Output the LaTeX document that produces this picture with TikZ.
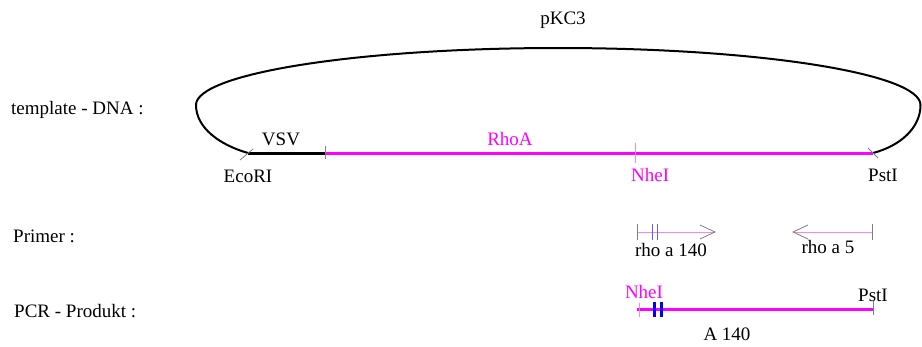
\documentclass[tikz,border=0pt]{standalone}
\usepackage{fontspec}
\setmainfont{Liberation Serif}
\definecolor{mag}{HTML}{FF00FF}
\definecolor{lpink}{HTML}{FF80FF}
\definecolor{tickgray}{HTML}{808080}
\definecolor{lblue}{HTML}{6060FF}
\begin{document}
\begin{tikzpicture}[x=1pt,y=-1pt,
  lbl/.style={font=\fontsize{19}{22}\selectfont, inner sep=0pt, anchor=base},
  mlbl/.style={lbl, text=mag},
  curve/.style={draw=black, line width=2pt},
  blkline/.style={draw=black, line width=3pt},
  magline/.style={draw=mag, line width=3pt},
  thinpink/.style={draw=lpink, line width=1pt},
  gtick/.style={draw=tickgray, line width=0.8pt},
  ptick/.style={draw=lpink, line width=1pt},
  btick/.style={draw=lblue, line width=1pt},
  bbtick/.style={draw=blue, line width=3pt}]
\useasboundingbox (0,0) rectangle (922,346);
\fill[white] (0,0) rectangle (922,346);

% row labels
\node[lbl, anchor=base west] (tdna) at (11,114) {template - DNA :};
\node[lbl, anchor=base west] (prim) at (13,242) {Primer :};
\node[lbl, anchor=base west] (pcr) at (14,317) {PCR - Produkt :};

% template
\coordinate (eco) at (248,153);
\coordinate (vsvend) at (325,153);
\coordinate (nhe) at (635,153);
\coordinate (pst) at (873,153);

\draw[curve] (eco) .. controls (220,145) and (196,128) .. (196,105)
  .. controls (196,73.5) and (358,48) .. (558,48)
  .. controls (758,48) and (920.5,73.5) .. (920.5,105)
  .. controls (920.5,128) and (900,146) .. (pst);
\node[lbl] (pkc) at (563,24) {pKC3};

\draw[blkline] (eco) -- (vsvend);
\draw[magline] (vsvend) -- (pst);
\draw[gtick] ([shift={(-8,7)}]eco) -- ([shift={(5,-4)}]eco);
\draw[gtick] ([shift={(-5,-5)}]pst) -- ([shift={(5,5)}]pst);
\draw[gtick] ([yshift=-6]vsvend) -- ([yshift=7]vsvend);
\draw[ptick] ([yshift=-10]nhe) -- ([yshift=10]nhe);

\node[lbl] (vsv) at (281,145) {VSV};
\node[mlbl] (rhoa) at (510,145) {RhoA};
\node[lbl] (ecol) at (248,182) {EcoRI};
\node[mlbl, anchor=base west] (nhel) at (631,181) {NheI};
\node[lbl, anchor=base west] (pstl) at (868,181) {PstI};

% primers
\coordinate (p1s) at (637,232);
\coordinate (p1e) at (715,232);
\coordinate (p2s) at (793,232);
\coordinate (p2e) at (872,232);
\draw[thinpink] (p1s) -- (p1e);
\draw[thinpink] (p2s) -- (p2e);
\draw[gtick] ([yshift=-8]p1s) -- ([yshift=8]p1s);
\draw[btick] (652,224) -- (652,240);
\draw[btick] (657,224) -- (657,240);
\draw[gtick] ([shift={(-15,-7)}]p1e) -- (p1e) -- ([shift={(-15,7)}]p1e);
\draw[gtick] ([shift={(15,-7)}]p2s) -- (p2s) -- ([shift={(15,7)}]p2s);
\draw[gtick] ([yshift=-8]p2e) -- ([yshift=8]p2e);
\node[lbl] (r140) at (671,256) {rho a 140};
\node[lbl] (r5) at (828,253) {rho a 5};

% PCR product
\coordinate (qs) at (637,309);
\coordinate (qe) at (873,309);
\draw[magline] (qs) -- (qe);
\draw[ptick] (639,303) -- (639,317);
\draw[bbtick] (654,302) -- (654,317);
\draw[bbtick] (661,302) -- (661,317);
\draw[gtick] ([yshift=-6]qe) -- ([yshift=8]qe);
\node[mlbl] (nhe2) at (644,298) {NheI};
\node[lbl] (pst2) at (873,301) {PstI};
\node[lbl] (a140) at (727,340) {A 140};
\end{tikzpicture}
\end{document}
